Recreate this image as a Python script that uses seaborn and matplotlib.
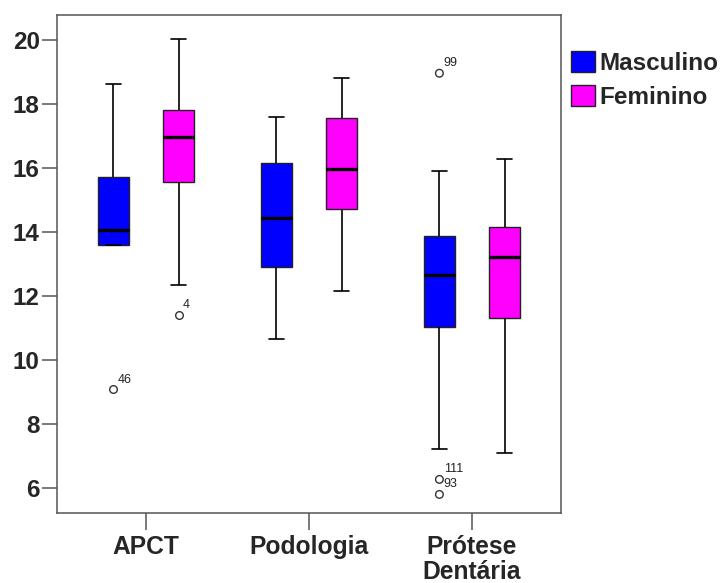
import numpy as np
import pandas as pd
import seaborn as sns
import matplotlib
matplotlib.use("Agg")
import matplotlib.pyplot as plt
import matplotlib.patches as mpatches

# ---- data ----
courses = ["APCT", "Podologia", "Prótese\nDentária"]
sexes = ["Masculino", "Feminino"]
colors = {"Masculino": "#0000FF", "Feminino": "#FF00FF"}

# five-number summaries: whisker low, Q1, median, Q3, whisker high
apct_masc = [13.60, 13.60, 14.06, 15.73, 18.63]
apct_fem = [12.33, 15.56, 16.96, 17.81, 20.04]
podo_masc = [10.65, 12.92, 14.43, 16.17, 17.60]
podo_fem = [12.16, 14.73, 15.97, 17.55, 18.82]
prot_masc = [7.23, 11.03, 12.67, 13.86, 15.92]
prot_fem = [7.11, 11.30, 13.23, 14.17, 16.29]

# outliers with case labels
out_course = ["APCT", "APCT", "Prótese\nDentária", "Prótese\nDentária", "Prótese\nDentária"]
out_sex = ["Masculino", "Feminino", "Masculino", "Masculino", "Masculino"]
out_value = [9.08, 11.41, 18.96, 6.27, 5.80]
out_label = ["46", "4", "99", "111", "93"]

yticks = [6, 8, 10, 12, 14, 16, 18, 20]

summaries = {
    ("APCT", "Masculino"): apct_masc,
    ("APCT", "Feminino"): apct_fem,
    ("Podologia", "Masculino"): podo_masc,
    ("Podologia", "Feminino"): podo_fem,
    ("Prótese\nDentária", "Masculino"): prot_masc,
    ("Prótese\nDentária", "Feminino"): prot_fem,
}
rows = []
for (c, s), vals in summaries.items():
    for v in vals:
        rows.append({"curso": c, "sexo": s, "nota": v})
df = pd.DataFrame(rows)
df_out = pd.DataFrame({"curso": out_course, "sexo": out_sex, "nota": out_value})

# ---- style ----
sns.set_style("white")
plt.rcParams["font.family"] = ["Liberation Sans", "DejaVu Sans"]

fig = plt.figure(figsize=(7.22, 5.83), dpi=100)
ax = fig.add_axes([57 / 722, 1 - 513 / 583, (561 - 57) / 722, (513 - 15) / 583])

sns.boxplot(
    data=df, x="curso", y="nota", hue="sexo", order=courses, hue_order=sexes,
    palette=colors, width=0.8, gap=0.52, whis=(0, 100), showfliers=False,
    linecolor="black", linewidth=1.0, saturation=1, ax=ax, legend=False,
    medianprops=dict(linewidth=2.4, color="black"),
    whiskerprops=dict(linewidth=1.2, color="black"),
    capprops=dict(linewidth=1.2, color="black"),
    boxprops=dict(edgecolor="#222222", linewidth=1.0),
)

sns.stripplot(
    data=df_out, x="curso", y="nota", hue="sexo", order=courses, hue_order=sexes,
    palette={"Masculino": "white", "Feminino": "white"}, dodge=True, jitter=False,
    size=5.5, linewidth=1.0, edgecolor="#333333", legend=False, ax=ax, zorder=5,
)

# outlier labels
dodge_off = {"Masculino": -0.2, "Feminino": 0.2}
for c, s, v, lab in zip(out_course, out_sex, out_value, out_label):
    xpos = courses.index(c) + dodge_off[s]
    ax.annotate(lab, xy=(xpos, v), xytext=(3, 5), textcoords="offset points",
                ha="left", va="baseline", fontsize=9, color="#222222")

ax.set_xlim(-0.546, 2.546)
ax.set_ylim(5.22, 20.78)
ax.set_yticks(yticks)
ax.set_yticklabels([str(t) for t in yticks])
ax.set_xlabel("")
ax.set_ylabel("")

for sp in ax.spines.values():
    sp.set_visible(True)
    sp.set_color("#555555")
    sp.set_linewidth(1.1)

ax.tick_params(axis="y", direction="out", length=11, width=1.1, color="#555555",
               pad=1.5, labelsize=17.5, left=True)
ax.tick_params(axis="x", direction="out", length=12, width=1.1, color="#555555",
               pad=3.5, labelsize=17.7, bottom=True)
for lbl in ax.get_yticklabels() + ax.get_xticklabels():
    lbl.set_fontweight("bold")
for lbl in ax.get_xticklabels():
    lbl.set_linespacing(1.1)

handles = [mpatches.Patch(facecolor=colors[s], edgecolor="#222222", linewidth=1.0, label=s)
           for s in sexes]
leg = fig.legend(handles=handles, loc="upper left", bbox_to_anchor=(571 / 722, 1 - 51 / 583),
                 frameon=False, prop={"weight": "bold", "size": 17.5},
                 handlelength=0.98, handleheight=0.98, handletextpad=0.2,
                 labelspacing=0.4, borderpad=0, borderaxespad=0)

fig.savefig("out.png", dpi=100)
